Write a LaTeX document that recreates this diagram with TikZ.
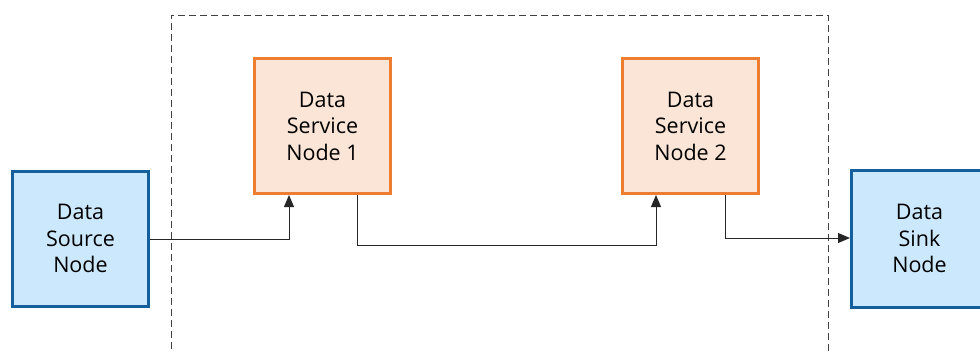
\documentclass[tikz,border=0pt]{standalone}
\usepackage{fontspec}
\setmainfont{Open Sans}
\usetikzlibrary{arrows.meta}
\definecolor{srcfill}{HTML}{CCE8FC}
\definecolor{srcdraw}{HTML}{15609C}
\definecolor{svcfill}{HTML}{FBE5D6}
\definecolor{svcdraw}{HTML}{ED7D31}
\tikzset{
  box/.style={rectangle, line width=3pt, minimum width=136pt, minimum height=135pt, inner sep=0pt, align=center, font=\fontsize{21.5}{26.5}\selectfont, text=black},
  srcbox/.style={box, draw=srcdraw, fill=srcfill},
  svcbox/.style={box, draw=svcdraw, fill=svcfill},
  conn/.style={draw=black!85, line width=1pt, -{Triangle[length=12pt,width=10pt]}},
  group/.style={draw=black!75, line width=1pt, dash pattern=on 7pt off 4pt}
}
\begin{document}
\begin{tikzpicture}[x=1pt,y=-1pt]
\useasboundingbox (0,0) rectangle (980,351);
\clip (0,0) rectangle (980,351);
\coordinate (gbl) at (171,360);
\coordinate (gtl) at (171,15);
\coordinate (gtr) at (828,15);
\coordinate (gbr) at (828,360);
\draw[group] (gbl) -- (gtl) -- (gtr) -- (gbr);
\node[srcbox] (src) at (80.5,238.5) {Data\\Source\\Node};
\node[svcbox] (s1) at (322.5,126) {Data\\Service\\Node 1};
\node[svcbox] (s2) at (690.5,126) {Data\\Service\\Node 2};
\node[srcbox, minimum height=137pt] (sink) at (919.5,238.5) {Data\\Sink\\Node};
\draw[conn] (src.east |- 0,239) -| (289,0 |- s1.south);
\draw[conn] (357,0 |- s1.south) |- (656,245) -- (656,0 |- s2.south);
\draw[conn] (725,0 |- s2.south) |- (sink.west |- 0,238);
\end{tikzpicture}
\end{document}
